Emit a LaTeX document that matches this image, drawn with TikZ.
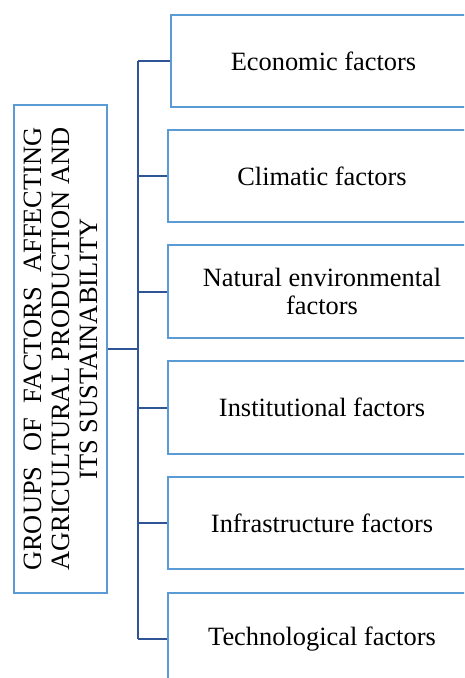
\documentclass[tikz,border=0pt]{standalone}
\usepackage{fontspec}
\setmainfont{Liberation Serif}
\definecolor{boxblue}{HTML}{5B9BD5}
\definecolor{linkblue}{HTML}{2F5597}
\newlength{\wideline}
\begin{document}
\settowidth{\wideline}{\fontsize{26.4}{28}\selectfont AGRICULTURAL PRODUCTION AND}%
\begin{tikzpicture}[x=1pt,y=-1pt,
  factorbox/.style={draw=boxblue, line width=2pt, fill=white, minimum width=308pt, minimum height=92pt, anchor=north west, inner sep=0pt},
  boxtext/.style={font=\fontsize{26.4}{28}\selectfont, align=center},
  link/.style={draw=linkblue, line width=2pt}]
\useasboundingbox (0,0) rectangle (464,678);
\clip (0,0) rectangle (464,678);
\fill[white] (0,0) rectangle (464,678);
% left box
\node[draw=boxblue, line width=2pt, minimum width=488pt, minimum height=93pt, inner sep=0pt, rotate=90] (main) at (60.5,349) {};
\node[rotate=90, font=\fontsize{26.4}{28}\selectfont, align=center, inner sep=0pt] (maintext) at (60.5,349)
  {\makebox[\wideline][s]{GROUPS OF FACTORS AFFECTING}\\AGRICULTURAL PRODUCTION AND\\ITS SUSTAINABILITY};
% factor boxes
\node[factorbox, minimum width=305pt] (b1) at (170,14) {};
\node[factorbox, minimum height=92pt] (b2) at (167,129) {};
\node[factorbox, minimum height=93pt] (b3) at (167,244) {};
\node[factorbox, minimum height=93pt] (b4) at (167,360) {};
\node[factorbox, minimum height=92pt] (b5) at (167,476) {};
\node[factorbox, minimum height=92pt] (b6) at (167,592) {};
\node[boxtext] at (b1.center) {Economic factors};
\node[boxtext] at (b2.center) {Climatic factors};
\node[boxtext] at (b3.center) {Natural environmental\\factors};
\node[boxtext] at (b4.center) {Institutional factors};
\node[boxtext] at (b5.center) {Infrastructure factors};
\node[boxtext] at (b6.center) {Technological factors};
% connectors
\coordinate (j) at (138,349);
\draw[link] (main.south) -- (j);
\draw[link] (j |- b1.west) -- (j |- b6.west);
\foreach \b in {b1,b2,b3,b4,b5,b6}
  \draw[link] (j |- \b.west) -- (\b.west);
\end{tikzpicture}
\end{document}
